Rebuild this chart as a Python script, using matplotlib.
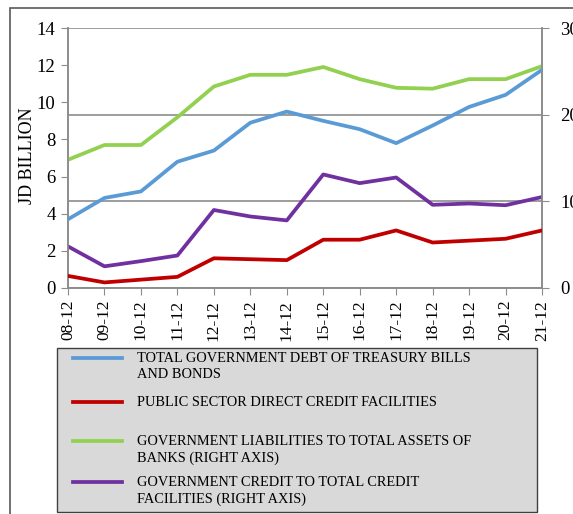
import matplotlib.pyplot as plt
import matplotlib.patches as mpatches
from matplotlib.lines import Line2D

plt.rcParams['font.family'] = ['Liberation Serif', 'DejaVu Serif']

periods = ["08-12", "09-12", "10-12", "11-12", "12-12", "13-12", "14-12",
	"15-12", "16-12", "17-12", "18-12", "19-12", "20-12", "21-12"]

# JD billion, left axis
treasury_debt = [3.7, 4.85, 5.2, 6.8, 7.4, 8.9, 9.5, 9.0, 8.55, 7.8, 8.75, 9.75, 10.4, 11.75]
public_credit = [0.65, 0.3, 0.45, 0.6, 1.6, 1.55, 1.5, 2.6, 2.6, 3.1, 2.45, 2.55, 2.65, 3.1]

# percent, right axis
liab_to_assets = [14.8, 16.5, 16.5, 19.7, 23.25, 24.6, 24.6, 25.5, 24.1, 23.1, 23.0, 24.1, 24.1, 25.6]
credit_to_total = [4.8, 2.5, 3.1, 3.75, 9.0, 8.25, 7.8, 13.1, 12.1, 12.75, 9.6, 9.75, 9.55, 10.5]

colors = {"blue": "#5b9bd5", "red": "#c00000", "green": "#92d050", "purple": "#7030a0"}
grey = "#8c8c8c"

fig = plt.figure(figsize=(5.73, 5.14), dpi=100)
ax = fig.add_axes([0.1187, 0.4397, 0.8273, 0.5058])
ax2 = ax.twinx()

x = range(len(periods))
lw = 2.7
ax2.plot(x, liab_to_assets, color=colors["green"], lw=lw, zorder=3)
ax2.plot(x, credit_to_total, color=colors["purple"], lw=lw, zorder=3)
ax.plot(x, treasury_debt, color=colors["blue"], lw=lw, zorder=3)
ax.plot(x, public_credit, color=colors["red"], lw=lw, zorder=3)

ax.set_zorder(ax2.get_zorder() + 1)
ax.patch.set_visible(False)

ax.set_xlim(0, len(periods) - 1)
ax.set_ylim(0, 14)
ax.set_yticks(range(0, 15, 2))
ax2.set_ylim(0, 30)
ax2.set_yticks([0, 10, 20, 30])
ax2.yaxis.grid(True, color=grey, lw=1.2)

ax.set_xticks(list(x))
ax.set_xticklabels(periods, rotation=90, fontsize=12.5)
ax.tick_params(axis='y', labelsize=13.5, color=grey, length=5, pad=4)
ax.tick_params(axis='x', color=grey, length=5)
ax2.tick_params(axis='y', labelsize=13.5, color=grey, length=5, pad=8)
ax.set_ylabel("JD BILLION", fontsize=13)
ax.yaxis.set_label_coords(-0.068, 0.51)

for a in (ax, ax2):
	a.spines['top'].set_visible(False)
	for s in ('left', 'right', 'bottom'):
		a.spines[s].set_color(grey)
		a.spines[s].set_linewidth(1.2)

# outer chart frame, right and bottom edges fall outside the image
fig.add_artist(mpatches.Rectangle((10 / 573, -0.1), 1.2, 1 - 8 / 514 + 0.1,
	transform=fig.transFigure, fill=False, edgecolor="#595959", lw=1.2))

# legend box
W, H = 573, 514
fig.add_artist(mpatches.Rectangle((57 / W, 1 - 512 / H), 480 / W, 164 / H,
	transform=fig.transFigure, facecolor="#d9d9d9", edgecolor="#404040", lw=1))
entries = [
	(colors["blue"], 358, "TOTAL GOVERNMENT DEBT OF TREASURY BILLS\nAND BONDS"),
	(colors["red"], 402, "PUBLIC SECTOR DIRECT CREDIT FACILITIES"),
	(colors["green"], 441, "GOVERNMENT LIABILITIES TO TOTAL ASSETS OF\nBANKS (RIGHT AXIS)"),
	(colors["purple"], 482, "GOVERNMENT CREDIT TO TOTAL CREDIT\nFACILITIES (RIGHT AXIS)"),
]
for col, yp, label in entries:
	yf = 1 - yp / H
	fig.add_artist(Line2D([73 / W, 122 / W], [yf, yf], transform=fig.transFigure,
		color=col, lw=lw))
	fig.text(137 / W, yf + 6 / H, label, fontsize=10.4, va='top', ha='left',
		linespacing=1.3)

plt.savefig("out.png", dpi=100)
